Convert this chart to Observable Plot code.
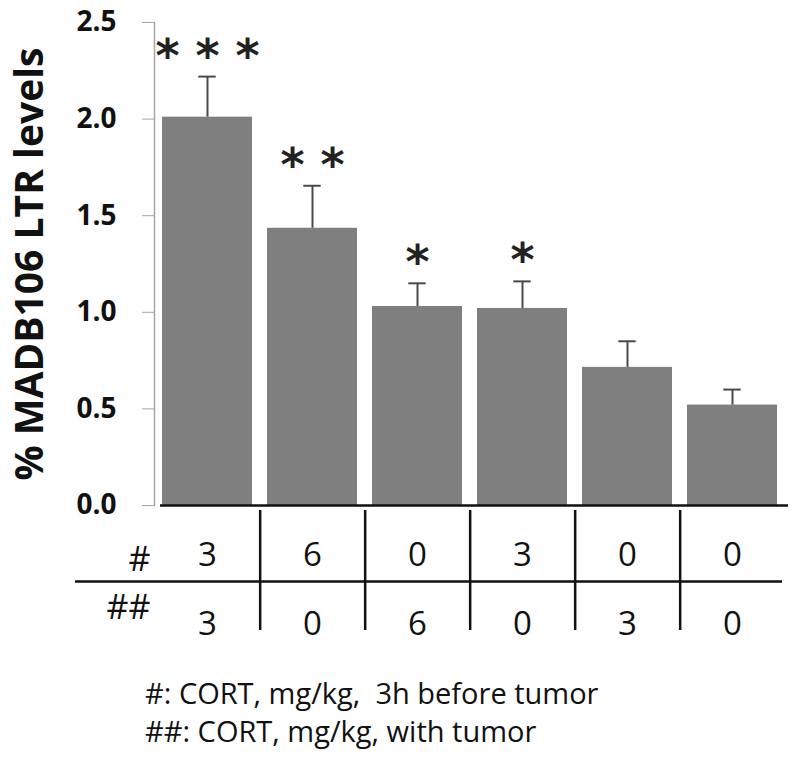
<!DOCTYPE html>
<html>
<head>
<meta charset="utf-8">
<script src="https://cdn.jsdelivr.net/npm/d3@7"></script>
<script src="https://cdn.jsdelivr.net/npm/@observablehq/plot@0.6"></script>
<style>
  body { margin: 0; background: #fff; font-family: "Open Sans", sans-serif; }
  svg { display: block; }
  #caption { padding-left: 145px; margin-top: 27px; font-size: 29px; line-height: 38px; color: #111; white-space: pre; }
</style>
</head>
<body>
<div id="chart"></div>
<div id="caption"></div>
<script>
// ---- data ----
const groups = ["3/3", "6/0", "0/6", "3/0", "0/3", "0/0"];
const cortBefore = [3, 6, 0, 3, 0, 0];   // #
const cortWith   = [3, 0, 6, 0, 3, 0];   // ##
const means = [2.01, 1.435, 1.03, 1.02, 0.715, 0.52];
const errs  = [0.21, 0.22, 0.12, 0.14, 0.135, 0.08];
const stars = ["* * *", "* *", "*", "*", "", ""];
const yTicks = [0, 0.5, 1.0, 1.5, 2.0, 2.5];
const yLabel = "% MADB106 LTR levels";
const rowLabels = ["#", "##"];
const captionLines = ["#: CORT, mg/kg,  3h before tumor", "##: CORT, mg/kg, with tumor"];

const data = groups.map((g, i) => ({g, mean: means[i], err: errs[i], top: means[i] + errs[i], star: stars[i], before: cortBefore[i], with: cortWith[i]}));

const W = 800, ML = 154, MR = 14;
const padIn = 0.14, padOut = 0.07;
const step = (W - ML - MR) / (groups.length - padIn + 2 * padOut);
const bw = step * (1 - padIn);
const capW = 18;
const font = "Open Sans";

const xScale = {type: "band", domain: groups, paddingInner: padIn, paddingOuter: padOut, axis: null};

const main = Plot.plot({
  width: W, height: 507,
  marginLeft: ML, marginRight: MR, marginTop: 22, marginBottom: 2,
  style: {fontFamily: font, background: "#fff", overflow: "visible"},
  x: xScale,
  y: {domain: [0, 2.5]},
  marks: [
    Plot.barY(data, {x: "g", y: "mean", fill: "#7f7f7f"}),
    Plot.ruleX(data, {x: "g", y1: "mean", y2: "top", stroke: "#4a4a4a", strokeWidth: 2}),
    Plot.tickY(data, {x: "g", y: "top", stroke: "#4a4a4a", strokeWidth: 2, insetLeft: (bw - capW) / 2, insetRight: (bw - capW) / 2}),
    Plot.text(data, {x: "g", y: "top", text: "star", fontFamily: "DejaVu Sans", fontSize: 46, fontWeight: "bold", lineAnchor: "bottom", dy: -5, fill: "#222"}),
    Plot.ruleY([0], {stroke: "#111", strokeWidth: 2.5, insetLeft: 6, insetRight: -2}),
    Plot.frame({anchor: "left", stroke: "#a6a6a6", strokeWidth: 1.5}),
    Plot.axisY({ticks: yTicks, tickFormat: d3.format(".1f"), tickSize: 12, tickPadding: 26, fontSize: 28, fontWeight: "bold", stroke: "#a6a6a6", fill: "#111", label: null}),
    Plot.text([yLabel], {frameAnchor: "left", rotate: -90, dx: -124, fontSize: 39, fontWeight: "bold", textAnchor: "middle", lineAnchor: "middle", fill: "#111"})
  ]
});

const table = Plot.plot({
  width: W, height: 140,
  marginLeft: ML, marginRight: MR, marginTop: 3, marginBottom: 17,
  style: {fontFamily: font, background: "transparent"},
  x: xScale,
  y: {type: "point", domain: rowLabels, range: [48, 117], padding: 0, axis: null},
  marks: [
    Plot.ruleX(groups.slice(0, -1), {x: d => d, dx: step / 2, stroke: "#111", strokeWidth: 2.5}),
    Plot.ruleY([rowLabels[0]], {y: d => d, dy: 26, stroke: "#111", strokeWidth: 2.5, insetLeft: -(ML - 75), insetRight: 4}),
    Plot.text(data, {x: "g", y: () => rowLabels[0], text: "before", fontSize: 33, fill: "#111"}),
    Plot.text(data, {x: "g", y: () => rowLabels[1], text: "with", fontSize: 33, fill: "#111"}),
    Plot.text([rowLabels[0]], {y: d => d, text: d => d, frameAnchor: "left", dx: -4, dy: 5, textAnchor: "end", fontSize: 34, fill: "#111"}),
    Plot.text([rowLabels[1]], {y: d => d, text: d => d, frameAnchor: "left", dx: -4, dy: -16, textAnchor: "end", fontSize: 34, fill: "#111"})
  ]
});

document.getElementById("chart").append(main, table);
document.getElementById("caption").textContent = captionLines.join("\n");
</script>
</body>
</html>
